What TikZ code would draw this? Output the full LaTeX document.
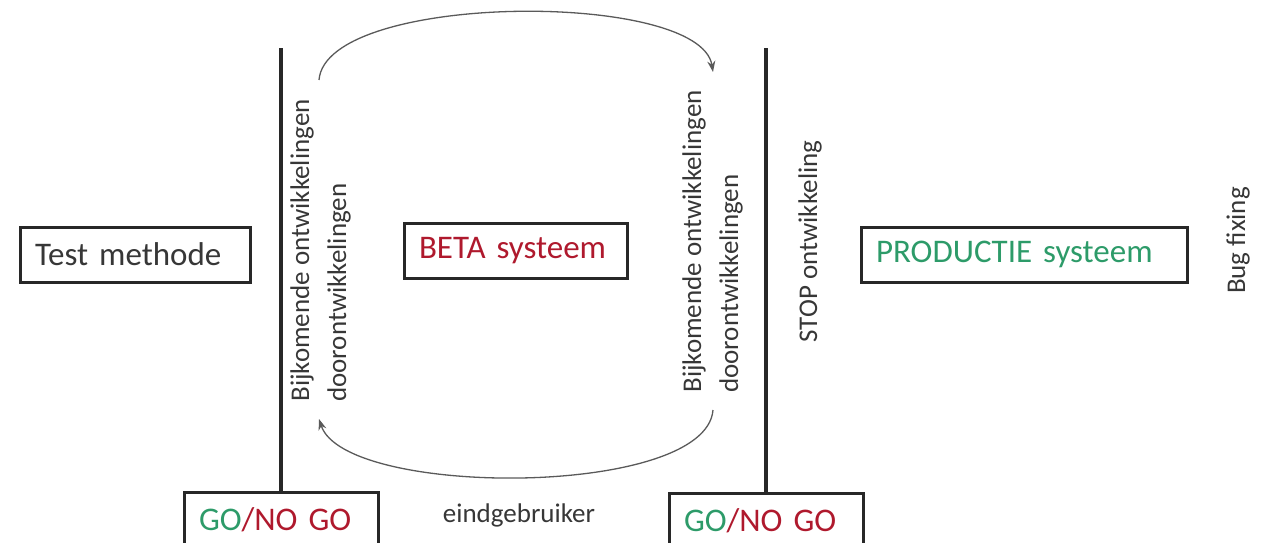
\documentclass[tikz,border=0pt]{standalone}
\usepackage{fontspec}
\setmainfont{Carlito}
\usetikzlibrary{arrows.meta, positioning}
\definecolor{Txtcol}{RGB}{55, 55, 55}
\definecolor{Boxcol}{RGB}{40, 40, 40}
\definecolor{Gocol}{RGB}{45, 155, 105}
\definecolor{Nogocol}{RGB}{175, 25, 45}
\definecolor{Arccol}{RGB}{90, 90, 90}

\begin{document}
\begin{tikzpicture}[
    x=1pt, y=-1pt,
    every node/.style={text=Txtcol},
    labelbox/.style={
        rectangle, draw=Boxcol, line width=3pt,
        inner xsep=15pt, inner ysep=0pt, minimum height=55pt,
        align=left, font=\fontsize{33}{36}\selectfont
    },
    sidetext/.style={
        rotate=90, inner sep=0pt, align=left,
        font=\fontsize{27}{37}\selectfont
    },
    barline/.style={line width=4pt, color=Boxcol},
    arrowstyle/.style={
        -{Stealth[length=11pt, width=8pt]},
        line width=1.3pt, color=Arccol
    }
]

    % ------------------- CORNICE -------------------
    \useasboundingbox (0,0) rectangle (1268,543);

    % ------------------- BOX PRINCIPALI -------------------
    \node[labelbox, text width=200pt] (bTest) at (135,254.5) {Test methode};
    \node[labelbox, text width=193pt, text=Nogocol] (bBeta) at (515.5,251) {BETA systeem};
    \node[labelbox, text width=296pt, text=Gocol] (bProd) at (1024,254.5) {PRODUCTIE systeem};

    % --- GO / NO GO (in basso, tagliati dal bordo) ---
    \node[labelbox, text width=164pt, minimum height=56pt] (bGo1) at (281,520)
        {\textcolor{Gocol}{GO}\textcolor{Nogocol}{/NO GO}};
    \node[labelbox, text width=164pt, minimum height=56pt] (bGo2) at (766,521)
        {\textcolor{Gocol}{GO}\textcolor{Nogocol}{/NO GO}};

    % ------------------- BARRE VERTICALI -------------------
    \coordinate (topL) at (280,48);
    \coordinate (topR) at (766,48);
    \draw[barline] (bGo1.north) -- (bGo1.north |- topL);
    \draw[barline] (bGo2.north) -- (bGo2.north |- topR);

    % ------------------- TESTI VERTICALI -------------------
    \node[sidetext] (tDevL) at (320.5,250.5) {Bijkomende ontwikkelingen\\doorontwikkelingen};
    \node[sidetext] (tDevR) at (712.5,241.5) {Bijkomende ontwikkelingen\\doorontwikkelingen};
    \node[sidetext] (tStop) at (810,241.5) {STOP ontwikkeling};
    \node[sidetext] (tBug) at (1238,240.5) {Bug fixing};

    \node[font=\fontsize{27}{30}\selectfont] (tEind) at (519,515) {eindgebruiker};

    % ------------------- CICLO BETA -------------------
    \coordinate (arcA) at (319,80);
    \coordinate (arcB) at (713,72);
    \coordinate (arcC) at (713,410);
    \coordinate (arcD) at (319,419);
    \draw[arrowstyle] (arcA) .. controls (326,-8) and (700,-10) .. (arcB);
    \draw[arrowstyle] (arcC) .. controls (706,498) and (345,498) .. (arcD);
\end{tikzpicture}
\end{document}
